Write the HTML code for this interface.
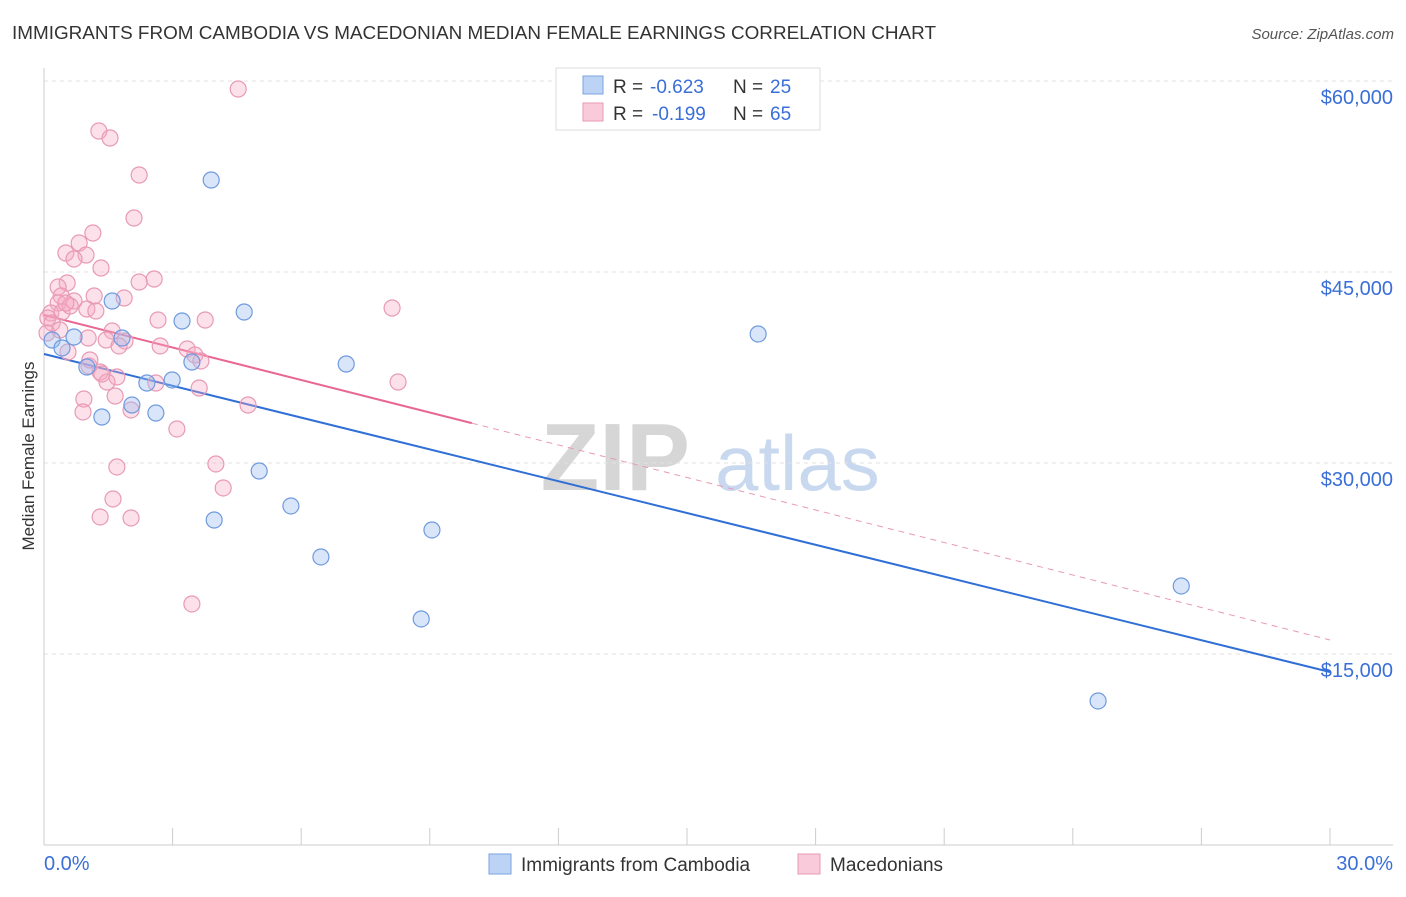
<!DOCTYPE html>
<html><head><meta charset="utf-8"><style>
body{margin:0;background:#fff;font-family:"Liberation Sans",sans-serif;}
svg text{font-family:"Liberation Sans",sans-serif;}
</style></head><body>
<svg id="c" width="1406" height="892">
<text x="12" y="39" font-size="18" fill="#333" textLength="924" lengthAdjust="spacingAndGlyphs">IMMIGRANTS FROM CAMBODIA VS MACEDONIAN MEDIAN FEMALE EARNINGS CORRELATION CHART</text>
<text x="1394" y="39" font-size="15" fill="#555" font-style="italic" text-anchor="end">Source: ZipAtlas.com</text>
<text transform="translate(34,456) rotate(-90)" font-size="17" fill="#333" text-anchor="middle">Median Female Earnings</text>
<g><text x="690" y="490" font-size="96" fill="#d6d6d6" text-anchor="end" font-family="Liberation Serif" font-weight="bold">ZIP</text><text x="715" y="490" font-size="78" fill="#c8d8ef">atlas</text></g>
<g id="grid"></g><g id="axes"></g><g id="lines"></g><g id="pts"></g>
<g>
<rect x="556" y="68" width="264" height="62" fill="#fff" stroke="#ddd"/>
<rect x="583" y="76" width="20" height="18" fill="#bcd3f5" stroke="#7aa3e0"/>
<text x="613" y="93" font-size="19" fill="#333">R =</text>
<text x="650" y="93" font-size="19" fill="#3a6fd8">-0.623</text>
<text x="733" y="93" font-size="19" fill="#333">N =</text>
<text x="770" y="93" font-size="19" fill="#3a6fd8">25</text>
<rect x="583" y="103" width="20" height="18" fill="#f9cad9" stroke="#e89ab5"/>
<text x="613" y="120" font-size="19" fill="#333">R =</text>
<text x="652" y="120" font-size="19" fill="#3a6fd8">-0.199</text>
<text x="733" y="120" font-size="19" fill="#333">N =</text>
<text x="770" y="120" font-size="19" fill="#3a6fd8">65</text>
</g>
<g>
<rect x="489" y="854" width="22" height="20" fill="#bcd3f5" stroke="#7aa3e0"/>
<text x="521" y="871" font-size="19" fill="#333">Immigrants from Cambodia</text>
<rect x="798" y="854" width="22" height="20" fill="#f9cad9" stroke="#e89ab5"/>
<text x="830" y="871" font-size="19" fill="#333">Macedonians</text>
</g>
</svg>
<script>
const yTicks=[15000,30000,45000,60000];
const yTickLabels=["$15,000","$30,000","$45,000","$60,000"];
const xTickLabels=["0.0%","30.0%"];
const blueX=[0.19,0.42,0.70,1.00,1.35,1.59,1.82,2.05,2.40,2.61,2.99,3.22,3.45,3.90,3.97,4.67,5.02,5.76,6.46,7.05,8.80,9.05,16.66,24.59,26.53];
const blueY=[39661,39033,39896,37540,33614,42723,39818,34556,36284,33928,36520,41153,37933,52225,25525,41860,29373,26625,22620,37776,17751,24740,40132,11311,20342];
const pinkX=[4.53,1.28,1.54,2.22,2.10,1.14,0.82,0.51,0.98,0.70,1.33,2.57,2.22,0.54,0.33,0.40,1.87,0.70,0.33,1.00,1.21,0.16,0.09,0.19,2.66,3.76,8.12,1.59,1.03,1.89,1.45,2.71,3.34,0.56,3.52,3.66,1.05,1.31,1.70,1.47,2.61,3.62,8.26,1.66,0.93,4.76,2.03,0.91,3.10,4.01,1.70,4.18,1.61,1.31,2.03,3.45,1.35,0.07,0.42,0.61,1.17,0.51,1.75,1.07,0.37];
const pinkY=[59372,56074,55524,52618,49241,48063,47278,46493,46336,46022,45315,44451,44215,44137,43823,43116,42959,42723,42566,42095,41938,41781,41389,40996,41231,41231,42174,40368,39818,39582,39661,39190,38954,38719,38483,38012,37619,37148,36755,36362,36284,35891,36362,35263,35027,34556,34164,34007,32672,29923,29688,28039,27175,25761,25683,18929,36991,40210,41860,42331,43116,42566,39190,38090,40446];
const blueTrend=[38560,13586];
const pinkTrend=[41623,16099];
const pinkSolidEnd=9.98;
const X=v=>44+v/30*1286, Y=v=>81+(60000-v)/15000*191;
const NS="http://www.w3.org/2000/svg";
function mk(p,t,a){const e=document.createElementNS(NS,t);for(const k in a)e.setAttribute(k,a[k]);p.appendChild(e);return e;}
const g=document.getElementById('grid'),ax=document.getElementById('axes'),ln=document.getElementById('lines'),pt=document.getElementById('pts');
yTicks.forEach((v,i)=>{const l=mk(g,'line',{x1:44,x2:1393,y1:Y(v),y2:Y(v),stroke:'#e2e2e2','stroke-dasharray':'4,4'});


const t=mk(ax,'text',{x:1393,y:Y(v)+23,'font-size':20,fill:'#3a6fd8','text-anchor':'end'});t.textContent=yTickLabels[i];

});
mk(ax,'line',{x1:44,x2:44,y1:68,y2:845,stroke:'#ccc'});
mk(ax,'line',{x1:44,x2:1393,y1:845,y2:845,stroke:'#ccc'});
for(let i=0;i<=10;i++){const tk=mk(ax,'line',{x1:X(i*3),x2:X(i*3),y1:828,y2:845,stroke:'#ccc'});

}
[[0,'start',44],[1,'end',1393]].forEach(([i,a,x])=>{const t=mk(ax,'text',{x:x,y:870,'font-size':20,fill:'#3a6fd8','text-anchor':a});t.textContent=xTickLabels[i];

});
const f=(tr,x)=>tr[0]+(tr[1]-tr[0])*x/30;
let l1=mk(ln,'line',{x1:X(0),y1:Y(f(blueTrend,0)),x2:X(30),y2:Y(f(blueTrend,30)),stroke:'#2f6fd6','stroke-width':2});


let l2=mk(ln,'line',{x1:X(0),y1:Y(f(pinkTrend,0)),x2:X(pinkSolidEnd),y2:Y(f(pinkTrend,pinkSolidEnd)),stroke:'#e86893','stroke-width':2});


let l3=mk(ln,'line',{x1:X(pinkSolidEnd),y1:Y(f(pinkTrend,pinkSolidEnd)),x2:X(30),y2:Y(f(pinkTrend,30)),stroke:'#e89ab5','stroke-width':1,'stroke-dasharray':'6,5'});


pinkX.forEach((x,i)=>{const c=mk(pt,'circle',{cx:X(x),cy:Y(pinkY[i]),r:8,fill:'rgba(245,170,195,0.35)',stroke:'#e89ab5','stroke-width':1.2});

});
blueX.forEach((x,i)=>{const c=mk(pt,'circle',{cx:X(x),cy:Y(blueY[i]),r:8,fill:'rgba(160,190,240,0.4)',stroke:'#6f9ade','stroke-width':1.2});

});
</script>
</body></html>
